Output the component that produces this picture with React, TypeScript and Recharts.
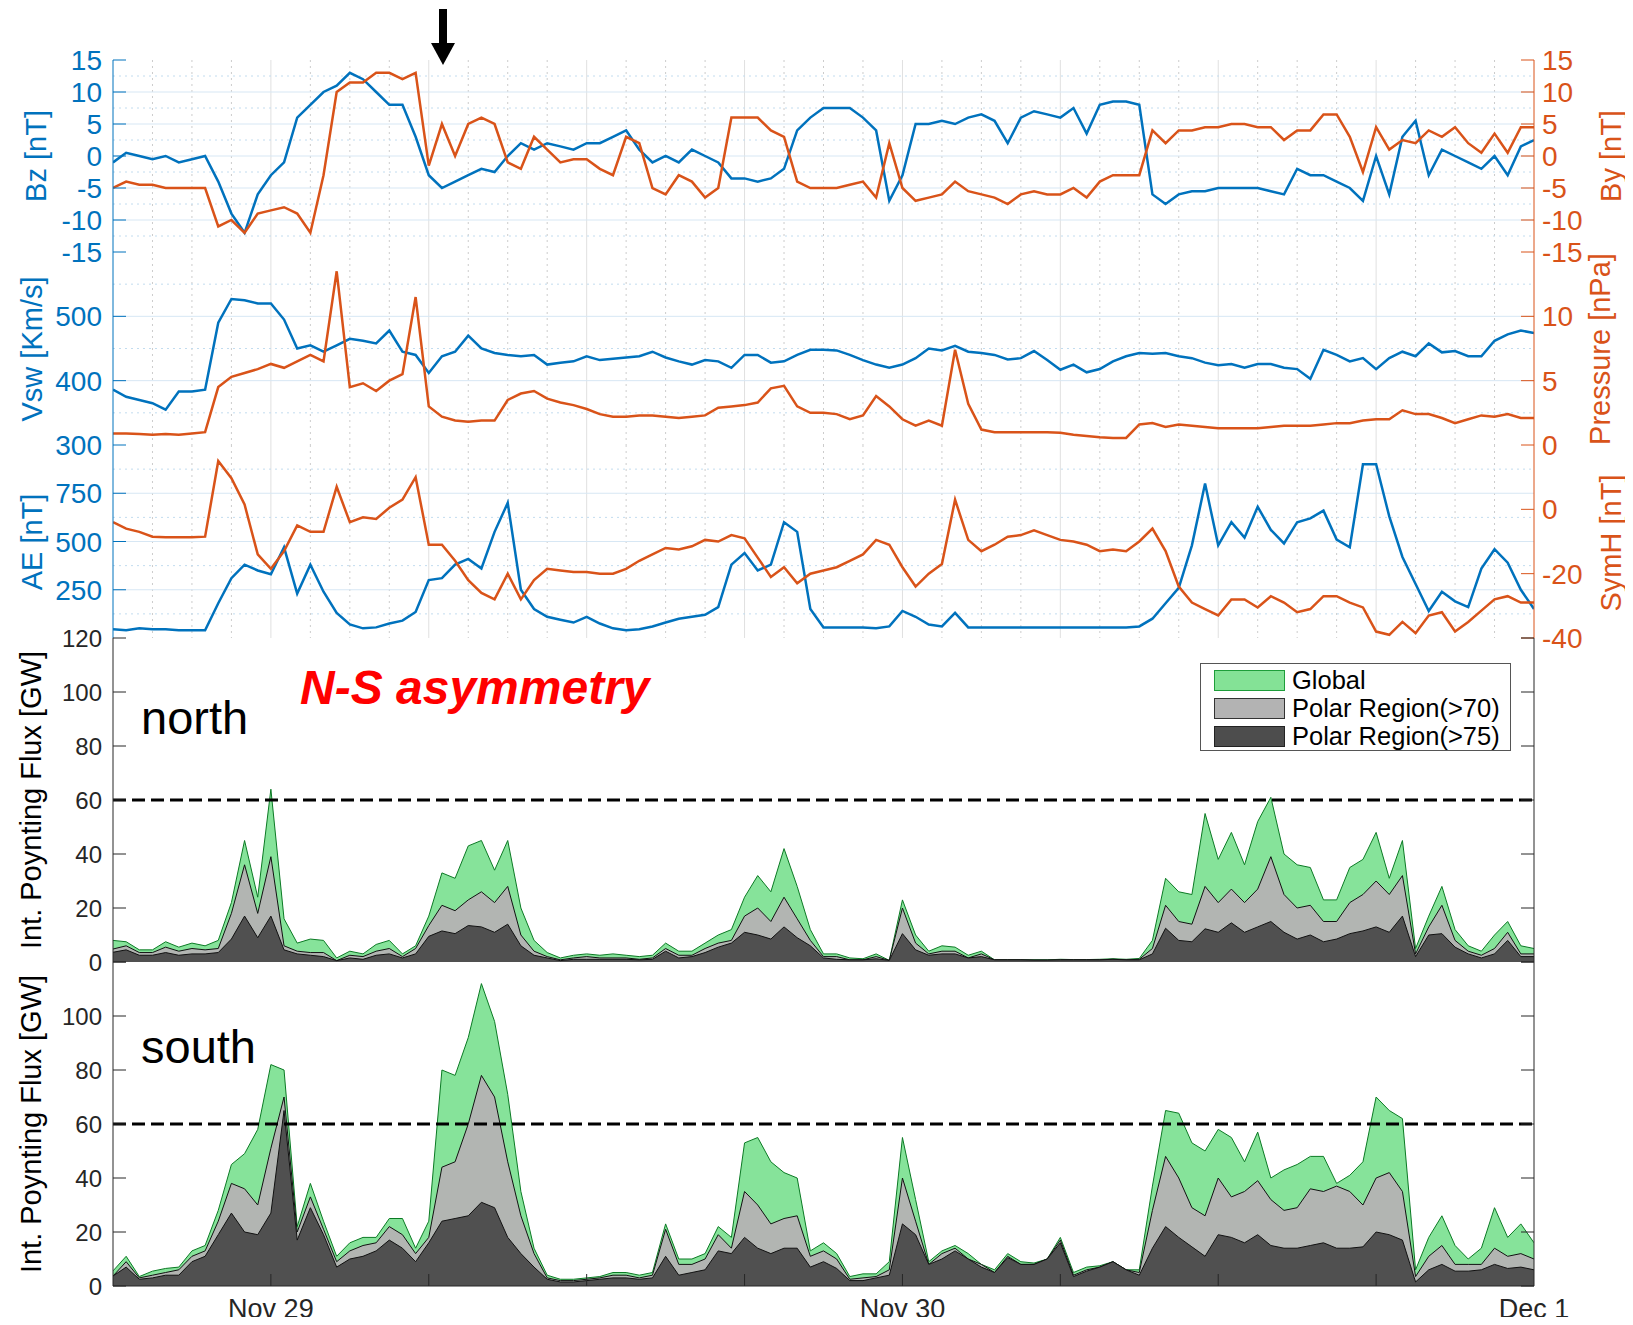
import React from 'react';
import {
  ComposedChart,
  Line,
  Area,
  XAxis,
  YAxis,
  CartesianGrid,
  ReferenceLine,
  Legend,
} from 'recharts';

const BLUE = '#0072BD';
const ORANGE = '#D95319';
const AXIS = '#262626';
const FONT = '"Liberation Sans", Arial, Helvetica, sans-serif';
const W = 1633;

// hours from Nov 29 00:00 (every 30 min)
const hours = [
  -6, -5.5, -5, -4.5, -4, -3.5, -3, -2.5, -2, -1.5,
  -1, -0.5, 0, 0.5, 1, 1.5, 2, 2.5, 3, 3.5,
  4, 4.5, 5, 5.5, 6, 6.5, 7, 7.5, 8, 8.5,
  9, 9.5, 10, 10.5, 11, 11.5, 12, 12.5, 13, 13.5,
  14, 14.5, 15, 15.5, 16, 16.5, 17, 17.5, 18, 18.5,
  19, 19.5, 20, 20.5, 21, 21.5, 22, 22.5, 23, 23.5,
  24, 24.5, 25, 25.5, 26, 26.5, 27, 27.5, 28, 28.5,
  29, 29.5, 30, 30.5, 31, 31.5, 32, 32.5, 33, 33.5,
  34, 34.5, 35, 35.5, 36, 36.5, 37, 37.5, 38, 38.5,
  39, 39.5, 40, 40.5, 41, 41.5, 42, 42.5, 43, 43.5,
  44, 44.5, 45, 45.5, 46, 46.5, 47, 47.5, 48,
];

const bz = [
  -1, 0.5, 0, -0.5, 0, -1, -0.5, 0, -4, -9,
  -12, -6, -3, -1, 6, 8, 10, 11, 13, 12,
  10, 8, 8, 3, -3, -5, -4, -3, -2, -2.5,
  0, 2, 1, 2, 1.5, 1, 2, 2, 3, 4,
  1, -1, 0, -1, 1, 0, -1, -3.5, -3.5, -4,
  -3.5, -2, 4, 6, 7.5, 7.5, 7.5, 6, 4, -7,
  -3, 5, 5, 5.5, 5, 6, 6.5, 5.5, 2, 6,
  7, 6.5, 6, 7.5, 3.5, 8, 8.5, 8.5, 8, -6,
  -7.5, -6, -5.5, -5.5, -5, -5, -5, -5, -5.5, -6,
  -2, -3, -3, -4, -5, -7, 0, -6, 3, 5.5,
  -3, 1, 0, -1, -2, 0, -3, 1.5, 2.5,
];

const by = [
  -5, -4, -4.5, -4.5, -5, -5, -5, -5, -11, -10,
  -12, -9, -8.5, -8, -9, -12, -3, 10, 11.5, 11.5,
  13, 13, 12, 13, -1.5, 5, 0, 5, 6, 5,
  -1, -2, 3, 1, -1, -0.5, -0.5, -2, -3, 3,
  2, -5, -6, -3, -4, -6.5, -5, 6, 6, 6,
  4, 3, -4, -5, -5, -5, -4.5, -4, -6.5, 2,
  -5, -7, -6.5, -6, -4, -5.5, -6, -6.5, -7.5, -6,
  -5.5, -6, -6, -5, -6.5, -4, -3, -3, -3, 4,
  2, 4, 4, 4.5, 4.5, 5, 5, 4.5, 4.5, 2.5,
  4, 4, 6.5, 6.5, 3, -2.5, 4.5, 1, 2.5, 2,
  4, 3, 4.5, 2, 0.5, 3.5, 0.5, 4.5, 4.5,
];

const vsw = [
  386, 375, 370, 365, 355, 383, 383, 386, 490, 527,
  525, 520, 520, 495, 450, 455, 445, 455, 465, 462,
  458, 478, 445, 440, 412, 438, 445, 470, 450, 443,
  440, 438, 440, 425, 428, 430, 438, 432, 434, 436,
  438, 445, 436, 430, 425, 432, 430, 420, 440, 440,
  428, 430, 440, 448, 448, 447, 440, 432, 425, 420,
  425, 435, 450, 447, 454, 445, 443, 440, 433, 435,
  446, 432, 417, 425, 413, 418, 430, 438, 443, 442,
  443, 438, 435, 428, 424, 426, 420, 426, 426, 420,
  418, 403, 448, 440, 430, 435, 418, 435, 445, 438,
  458, 444, 446, 438, 438, 462, 472, 478, 474,
];

const pressure = [
  0.9, 0.9, 0.85, 0.8, 0.85, 0.8, 0.9, 1.0, 4.5, 5.3,
  5.6, 5.9, 6.3, 6.0, 6.5, 7, 6.5, 13.5, 4.5, 4.8,
  4.2, 5, 5.5, 11.5, 3.0, 2.2, 1.9, 1.8, 1.9, 1.9,
  3.5, 4.0, 4.2, 3.6, 3.3, 3.1, 2.8, 2.4, 2.2, 2.2,
  2.3, 2.3, 2.2, 2.1, 2.2, 2.3, 2.9, 3.0, 3.1, 3.3,
  4.4, 4.6, 3.0, 2.5, 2.5, 2.4, 2.0, 2.3, 3.8, 3.0,
  2.0, 1.5, 1.9, 1.5, 7.4, 3.2, 1.2, 1.0, 1.0, 1.0,
  1.0, 1.0, 0.95, 0.8, 0.7, 0.6, 0.55, 0.55, 1.6, 1.7,
  1.4, 1.6, 1.5, 1.4, 1.3, 1.3, 1.3, 1.3, 1.4, 1.5,
  1.5, 1.5, 1.6, 1.7, 1.7, 1.9, 2.0, 2.0, 2.7, 2.4,
  2.4, 2.1, 1.7, 2.0, 2.3, 2.2, 2.4, 2.1, 2.1,
];

const ae = [
  45, 40, 50, 45, 45, 40, 40, 40, 180, 310,
  380, 350, 330, 470, 230, 380, 240, 130, 70, 50,
  55, 75, 90, 135, 300, 310, 380, 410, 360, 550,
  700, 250, 150, 110, 95, 80, 110, 75, 50, 40,
  45, 60, 80, 100, 110, 120, 160, 380, 440, 350,
  380, 600, 550, 150, 55, 55, 55, 55, 50, 60,
  140, 110, 70, 60, 130, 55, 55, 55, 55, 55,
  55, 55, 55, 55, 55, 55, 55, 55, 60, 100,
  180, 260, 480, 800, 480, 600, 520, 680, 560, 490,
  600, 620, 660, 510, 470, 900, 900, 630, 420, 280,
  140, 240, 190, 160, 360, 460, 390, 250, 150,
];

const symh = [
  -4, -6, -7, -8.5, -8.7, -8.7, -8.7, -8.5, 15, 9.7,
  1.5, -14, -18.5, -13, -5, -7, -7, 7, -4, -2.5,
  -3, 0.5, 3, 10, -11, -11, -16, -22, -26, -28,
  -20, -28, -22, -18.5, -19, -19.5, -19.5, -20, -20, -18.5,
  -16, -14, -12, -12.5, -11.5, -9.5, -10, -8, -9, -15,
  -21, -18, -23, -20, -19, -18, -16, -14, -9.5, -11,
  -18, -24, -20, -17, 3, -9.5, -13, -11, -8.5, -8,
  -6.5, -8, -9.5, -10, -11, -13, -12.5, -13, -10, -6,
  -13, -24, -29, -31, -33, -28, -28, -30.5, -27, -29,
  -32, -31, -27, -27, -29, -30.5, -38, -39, -35, -38.5,
  -33, -32, -38, -35, -31.5, -28, -27, -29, -29,
];

// integrated Poynting flux, north hemisphere [GW]
const northGlobal = [
  8, 7.5, 4.5, 4.5, 7.5, 5.5, 7, 6, 8, 22,
  45, 24, 64, 16, 7, 8.5, 8, 1.5, 4, 3,
  6.5, 8, 3, 6, 17, 33, 31, 43, 45, 34,
  45, 20, 8, 3.5, 1.5, 2.5, 3, 2.5, 3, 2.5,
  2, 2.5, 7, 4, 4, 7, 10, 12, 24, 32,
  26, 42, 28, 12, 3, 3, 1.5, 1.2, 3, 0.6,
  23, 10, 4, 6, 5.5, 2.5, 4, 0.8, 0.8, 0.8,
  0.8, 0.8, 1, 0.9, 0.9, 1, 1.2, 1, 1.3, 8,
  31, 26, 25, 55, 38, 48, 36, 52, 61, 40,
  36, 35, 23, 23, 35, 38, 48, 31, 45, 5,
  17, 28, 12, 6, 4, 10, 15, 6, 5,
];
const northP70 = [
  4.8, 6, 3.5, 3.5, 5.5, 4, 5, 4.5, 5, 18,
  36, 18, 39, 6, 4, 3.5, 3.5, 0.5, 2.5, 2,
  4, 5, 2, 5, 13.5, 21, 19, 23, 26, 22,
  28, 10, 4, 2, 0.8, 1.5, 2, 1.5, 1.5, 1.5,
  1, 1.5, 5, 2.5, 2.5, 5, 7, 8, 17, 20,
  15, 24, 16, 8, 2, 2, 0.8, 0.8, 2, 0.6,
  20, 7, 3, 4, 4, 1.5, 3, 0.8, 0.8, 0.8,
  0.7, 0.7, 0.8, 0.8, 0.8, 0.8, 1, 0.8, 1, 5,
  21, 15, 14, 28, 22, 27, 22, 27, 39, 25,
  20, 21, 15, 15, 22, 25, 30, 25, 32, 3,
  13, 21, 8, 4, 2.5, 5, 11, 3, 3,
];
const northP75 = [
  3.6, 4.5, 2.5, 2.5, 3.5, 2.5, 3, 3, 3.5, 8.5,
  17, 9, 17, 4.5, 3, 2.5, 2, 0.5, 1.5, 1,
  2.5, 3, 1.5, 3, 9.5, 11.5, 10.5, 13.5, 13, 11,
  14, 6, 2.5, 1.5, 0.5, 1, 1, 1, 1, 1,
  0.8, 1, 4, 1.5, 2, 3.5, 5.5, 7, 11, 10,
  8.5, 13, 9, 6, 1.5, 1, 0.8, 0.8, 1.2, 0.6,
  10.5, 4.5, 2.5, 3, 3, 1.5, 2, 0.8, 0.8, 0.8,
  0.7, 0.7, 0.8, 0.8, 0.8, 0.8, 1, 0.8, 0.8, 3,
  12.5, 8, 7.5, 12.3, 11, 14.5, 11, 13, 15, 11,
  8.5, 10, 7.5, 8.5, 10.5, 11.5, 13, 11, 17, 2,
  10, 10.5, 5.5, 3, 1.5, 3, 8, 2, 2,
];

// integrated Poynting flux, south hemisphere [GW]
const southGlobal = [
  5.6, 11, 3.5, 5.5, 6.5, 7, 13, 15, 28, 45,
  49, 58, 82, 80, 22, 38, 24, 11, 16, 18,
  18, 25, 25, 14, 24, 80, 78, 92, 112, 98,
  71, 35, 14, 4, 2.5, 2.5, 3, 3.5, 5, 5,
  4, 5, 23, 10, 10, 12, 22, 18, 53, 55,
  46, 42, 40, 13, 16, 12, 3.5, 4.5, 4.5, 9,
  55, 32, 9, 13, 15, 12, 8, 6, 12, 9,
  8.5, 10, 18, 5, 7, 7.5, 9, 6, 6, 37,
  65, 64, 53, 50, 58, 55, 46, 57, 40, 43,
  45, 48, 48, 38, 41, 46, 70, 65, 62, 6,
  18, 26, 15, 10, 14, 29, 18, 23, 16,
];
const southP70 = [
  3.7, 9, 3, 4, 5, 6, 11, 13, 24, 38,
  36, 30, 51, 70, 20, 33, 21, 9, 13, 15,
  16, 22, 19, 12, 18, 44, 46, 60, 78, 70,
  46, 26, 12, 3, 2, 2, 2.5, 3, 4, 4,
  3, 4, 21, 8, 8, 10, 19, 14, 35, 30,
  23, 25, 26, 11, 13, 10, 2.5, 3, 3.5, 6,
  40, 24, 8, 12, 14, 10, 8, 5, 11, 8,
  8, 10, 17, 4, 6, 7, 9, 6, 5, 28,
  48, 40, 29, 26, 40, 33, 35, 39, 32, 28,
  29, 36, 35, 37, 35, 30, 40, 42, 35, 3.5,
  11, 15, 8, 8, 8, 14, 11, 12, 10,
];
const southP75 = [
  3.7, 7, 2.5, 3, 4, 4, 9, 11, 19, 27,
  20, 19, 27, 65, 17, 29, 19, 7, 10, 11,
  13, 17, 14, 9, 16, 24, 25, 26, 31, 29,
  18, 12, 7, 2.5, 1.5, 1.5, 2, 2.5, 3, 3,
  2.5, 3, 11, 4, 5, 6, 13, 12, 18, 14,
  12, 14, 14, 7, 9, 6.5, 2, 2, 3, 4,
  23, 19, 8, 10, 13, 10, 7, 5, 10.5, 8,
  8, 10, 16, 3.5, 5.5, 7, 9, 6, 4, 14,
  22, 18, 14.5, 11, 19, 18, 16, 19, 15, 14,
  14, 15, 16, 14, 14, 14.5, 20, 19, 17, 1.5,
  6, 8, 5.5, 5.5, 6, 8, 6.5, 7, 6,
];

const X_TICKS = [-6, 0, 6, 12, 18, 24, 30, 36, 42, 48];
const X_MAJOR_GRID = [0, 6, 12, 18, 24, 30, 36, 42];
const X_MINOR_GRID = [
  -4.5, -3, -1.5, 1.5, 3, 4.5, 7.5, 9, 10.5, 13.5, 15, 16.5, 19.5, 21, 22.5,
  25.5, 27, 28.5, 31.5, 33, 34.5, 37.5, 39, 40.5, 43.5, 45, 46.5,
];
const DATE_LABELS: Record<number, string> = { 0: 'Nov 29', 24: 'Nov 30', 48: 'Dec 1' };
const FLUX_TICKS = [0, 20, 40, 60, 80, 100, 120];

const legendItems = [
  { name: 'Global', fill: '#84E296', stroke: '#1E9E3A' },
  { name: 'Polar Region(>70)', fill: '#B3B3B3', stroke: '#333333' },
  { name: 'Polar Region(>75)', fill: '#4D4D4D', stroke: '#222222' },
];

const rows = hours.map((t, i) => ({
  t,
  bz: bz[i],
  by: by[i],
  vsw: vsw[i],
  pressure: pressure[i],
  ae: ae[i],
  symh: symh[i],
  nG: northGlobal[i],
  n70: northP70[i],
  n75: northP75[i],
  sG: southGlobal[i],
  s70: southP70[i],
  s75: southP75[i],
}));

const yTick =
  (side: 'left' | 'right', color: string, fs: number, hideLabels: number[] | 'all' = []) =>
  (props: any) => {
    const { x, y, payload } = props;
    const v = payload.value;
    const inward = side === 'left' ? 13 : -13;
    const showLabel = hideLabels !== 'all' && !hideLabels.includes(v);
    return (
      <g>
        <line x1={x} x2={x + inward} y1={y} y2={y} stroke={color} strokeWidth={1} />
        {showLabel && (
          <text
            x={side === 'left' ? x - 11 : x + 8}
            y={y}
            dy="0.36em"
            textAnchor={side === 'left' ? 'end' : 'start'}
            fill={color}
            fontSize={fs}
            fontFamily={FONT}
          >
            {v}
          </text>
        )}
      </g>
    );
  };

const xTick = (pos: 'top' | 'bottom', dates: boolean) => (props: any) => {
  const { x, y, payload } = props;
  const v = Number(payload.value);
  const d = pos === 'bottom' ? -12 : 12;
  const label = dates ? DATE_LABELS[v] : undefined;
  return (
    <g>
      {v > -6 && v < 48 && <line x1={x} x2={x} y1={y} y2={y + d} stroke={AXIS} strokeWidth={1} />}
      {label && (
        <text x={x} y={y + 32} textAnchor="middle" fill={AXIS} fontSize={27} fontFamily={FONT}>
          {label}
        </text>
      )}
    </g>
  );
};

const xAxes = (dates: boolean) => [
  <XAxis
    key="xb"
    dataKey="t"
    type="number"
    domain={[-6, 48]}
    ticks={X_TICKS}
    interval={0}
    allowDataOverflow
    height={dates ? 39 : 0}
    tickSize={0}
    tickMargin={0}
    tickLine={false}
    axisLine={{ stroke: AXIS, strokeWidth: 1 }}
    tick={xTick('bottom', dates)}
  />,
  <XAxis
    key="xt"
    xAxisId="top"
    orientation="top"
    dataKey="t"
    type="number"
    domain={[-6, 48]}
    ticks={X_TICKS}
    interval={0}
    allowDataOverflow
    height={0}
    tickSize={0}
    tickMargin={0}
    tickLine={false}
    axisLine={{ stroke: AXIS, strokeWidth: 1 }}
    tick={xTick('top', false)}
  />,
];

const grids = (hMajor: number[], hMinor: number[]) => [
  <CartesianGrid key="gv2" yAxisId="l" horizontal={false} verticalValues={X_MINOR_GRID} stroke="#cccccc" strokeDasharray="2 4" />,
  <CartesianGrid key="gv1" yAxisId="l" horizontal={false} verticalValues={X_MAJOR_GRID} stroke="#e0e0e0" />,
  <CartesianGrid key="gh2" yAxisId="l" vertical={false} horizontalValues={hMinor} stroke="#c2dcef" strokeDasharray="2 4" />,
  <CartesianGrid key="gh1" yAxisId="l" vertical={false} horizontalValues={hMajor} stroke="#d7e7f4" />,
];

const Panel = ({ top, bottom, mt, mb, extra = 0, children }: any) => {
  const h = bottom - top + mt + mb + extra;
  return (
    <div style={{ position: 'absolute', left: 0, top: top - mt, width: W, height: h }}>
      <ComposedChart width={W} height={h} data={rows} margin={{ top: mt, right: 0, bottom: mb, left: 0 }}>
        {children}
      </ComposedChart>
    </div>
  );
};

const yAxisCommon = {
  tickSize: 0,
  tickMargin: 0,
  tickLine: false,
  interval: 0 as const,
  allowDataOverflow: true,
};

const TICK_FS = 28;

const LegendBox = () => (
  <div
    style={{
      width: 309,
      height: 84,
      border: '1px solid #555',
      background: '#fff',
      boxSizing: 'content-box',
      paddingTop: 2,
      fontFamily: FONT,
    }}
  >
    {legendItems.map((it) => (
      <div key={it.name} style={{ display: 'flex', alignItems: 'center', height: 28, marginLeft: 13 }}>
        <div
          style={{
            width: 69,
            height: 19,
            background: it.fill,
            border: `1.5px solid ${it.stroke}`,
            flexShrink: 0,
          }}
        />
        <span style={{ marginLeft: 7, fontSize: 25.5, color: '#000', lineHeight: '26px', whiteSpace: 'nowrap' }}>
          {it.name}
        </span>
      </div>
    ))}
  </div>
);

const fluxPanel = (keys: [string, string, string], hideTop: boolean, dates: boolean) => [
  ...xAxes(dates),
  <YAxis
    key="yl"
    yAxisId="l"
    domain={[0, 120]}
    ticks={FLUX_TICKS}
    width={113}
    axisLine={{ stroke: AXIS }}
    tick={yTick('left', AXIS, 24, hideTop ? [120] : [])}
    {...yAxisCommon}
  />,
  <YAxis
    key="yr"
    yAxisId="r"
    orientation="right"
    domain={[0, 120]}
    ticks={FLUX_TICKS}
    width={99}
    axisLine={{ stroke: AXIS }}
    tick={yTick('right', AXIS, 24, 'all')}
    {...yAxisCommon}
  />,
  <Area key="a1" yAxisId="l" type="linear" dataKey={keys[0]} stroke="#0B7A24" strokeWidth={1} fill="#86E39A" fillOpacity={1} dot={false} activeDot={false} isAnimationActive={false} />,
  <Area key="a2" yAxisId="l" type="linear" dataKey={keys[1]} stroke="#111" strokeWidth={1} fill="#B2B5B2" fillOpacity={1} dot={false} activeDot={false} isAnimationActive={false} />,
  <Area key="a3" yAxisId="l" type="linear" dataKey={keys[2]} stroke="#111" strokeWidth={1} fill="#505050" fillOpacity={1} dot={false} activeDot={false} isAnimationActive={false} />,
  <ReferenceLine key="r60" yAxisId="l" y={60} stroke="#000" strokeWidth={3} strokeDasharray="13 6" />,
];

export default function App() {
  const rot = (x: number, y: number, text: string, color: string) => (
    <text
      x={x}
      y={y}
      transform={`rotate(-90 ${x} ${y})`}
      textAnchor="middle"
      dominantBaseline="central"
      fill={color}
      fontSize={29}
      fontFamily={FONT}
    >
      {text}
    </text>
  );

  return (
    <div style={{ position: 'relative', width: W, height: 1325, margin: -8, background: '#fff' }}>
      {/* Bz / By */}
      <Panel top={60} bottom={252} mt={20} mb={20}>
        {grids([-10, -5, 0, 5, 10], [-12.5, -7.5, -2.5, 2.5, 7.5, 12.5])}
        {xAxes(false)}
        <YAxis yAxisId="l" domain={[-15, 15]} ticks={[-15, -10, -5, 0, 5, 10, 15]} width={113} axisLine={{ stroke: BLUE }} tick={yTick('left', BLUE, TICK_FS)} {...yAxisCommon} />
        <YAxis yAxisId="r" orientation="right" domain={[-15, 15]} ticks={[-15, -10, -5, 0, 5, 10, 15]} width={99} axisLine={{ stroke: ORANGE }} tick={yTick('right', ORANGE, TICK_FS)} {...yAxisCommon} />
        <Line yAxisId="l" type="linear" dataKey="bz" stroke={BLUE} strokeWidth={2.5} dot={false} isAnimationActive={false} />
        <Line yAxisId="r" type="linear" dataKey="by" stroke={ORANGE} strokeWidth={2.5} dot={false} isAnimationActive={false} />
      </Panel>

      {/* Vsw / Pressure */}
      <Panel top={252} bottom={445} mt={20} mb={20}>
        {grids([400, 500], [350, 450, 550])}
        {xAxes(false)}
        <YAxis yAxisId="l" domain={[300, 600]} ticks={[300, 400, 500]} width={113} axisLine={{ stroke: BLUE }} tick={yTick('left', BLUE, TICK_FS)} {...yAxisCommon} />
        <YAxis yAxisId="r" orientation="right" domain={[0, 15]} ticks={[0, 5, 10]} width={99} axisLine={{ stroke: ORANGE }} tick={yTick('right', ORANGE, TICK_FS)} {...yAxisCommon} />
        <Line yAxisId="l" type="linear" dataKey="vsw" stroke={BLUE} strokeWidth={2.5} dot={false} isAnimationActive={false} />
        <Line yAxisId="r" type="linear" dataKey="pressure" stroke={ORANGE} strokeWidth={2.5} dot={false} isAnimationActive={false} />
      </Panel>

      {/* AE / SymH */}
      <Panel top={445} bottom={638} mt={20} mb={20}>
        {grids([250, 500, 750], [125, 375, 625, 875])}
        {xAxes(false)}
        <YAxis yAxisId="l" domain={[0, 1000]} ticks={[250, 500, 750]} width={113} axisLine={{ stroke: BLUE }} tick={yTick('left', BLUE, TICK_FS)} {...yAxisCommon} />
        <YAxis yAxisId="r" orientation="right" domain={[-40, 20]} ticks={[-40, -20, 0]} width={99} axisLine={{ stroke: ORANGE }} tick={yTick('right', ORANGE, TICK_FS)} {...yAxisCommon} />
        <Line yAxisId="l" type="linear" dataKey="ae" stroke={BLUE} strokeWidth={2.5} dot={false} isAnimationActive={false} />
        <Line yAxisId="r" type="linear" dataKey="symh" stroke={ORANGE} strokeWidth={2.5} dot={false} isAnimationActive={false} />
      </Panel>

      {/* North Poynting flux */}
      <Panel top={638} bottom={962} mt={20} mb={20}>
        {fluxPanel(['nG', 'n70', 'n75'], false, false)}
        <Legend
          layout="vertical"
          align="center"
          verticalAlign="middle"
          content={() => <LegendBox />}
          wrapperStyle={{ left: 1200, top: 663 - 618, width: 311 }}
        />
      </Panel>

      {/* South Poynting flux (bottom axis carries the date labels) */}
      <Panel top={962} bottom={1286} mt={20} mb={0} extra={39}>
        {fluxPanel(['sG', 's70', 's75'], true, true)}
      </Panel>

      <svg
        width={W}
        height={1325}
        style={{ position: 'absolute', left: 0, top: 0, pointerEvents: 'none' }}
      >
        {rot(36, 156, 'Bz [nT]', BLUE)}
        {rot(1611, 156, 'By [nT]', ORANGE)}
        {rot(32, 349, 'Vsw [Km/s]', BLUE)}
        {rot(1600, 349, 'Pressure [nPa]', ORANGE)}
        {rot(32, 542, 'AE [nT]', BLUE)}
        {rot(1611, 543, 'SymH [nT]', ORANGE)}
        {rot(31, 800, 'Int. Poynting Flux [GW]', '#000')}
        {rot(31, 1124, 'Int. Poynting Flux [GW]', '#000')}
        <text x={141} y={734} fontSize={47} fontFamily={FONT} fill="#000">north</text>
        <text x={141} y={1063} fontSize={47} fontFamily={FONT} fill="#000">south</text>
        <text x={300} y={704} fontSize={48} fontWeight="bold" fontStyle="italic" fontFamily={FONT} fill="#FF0000">
          N-S asymmetry
        </text>
        <rect x={439} y={9} width={8} height={36} fill="#000" />
        <polygon points="431,43 455,43 443,65" fill="#000" />
      </svg>
    </div>
  );
}
